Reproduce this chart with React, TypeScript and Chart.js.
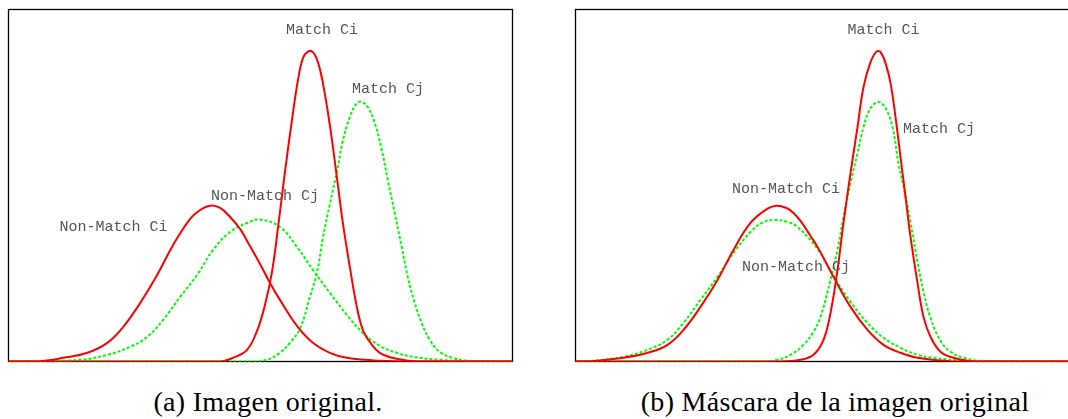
import React, { useEffect, useRef } from 'react';
import { Chart, registerables } from 'chart.js';

Chart.register(...registerables);

// ---------- Panel (a): Imagen original ----------
const aNonMatchCiX = [0, 6.34, 10.89, 15.64, 19.6, 22.77, 26.14, 29.5, 32.67, 36.04, 38.02, 40.0, 41.98, 43.96, 45.94, 47.33, 49.9, 51.88, 53.86, 57.23, 60.4, 63.76, 67.13, 73.66, 81.58, 100];
const aNonMatchCiY = [0, 0.001, 0.0105, 0.0247, 0.053, 0.0985, 0.1666, 0.246, 0.3312, 0.405, 0.4305, 0.4427, 0.4361, 0.4106, 0.3766, 0.3425, 0.2772, 0.2233, 0.1751, 0.1013, 0.0531, 0.0247, 0.0105, 0.002, 0, 0];

const aMatchCiX = [0, 41.98, 44.55, 47.33, 49.31, 50.89, 52.28, 53.47, 54.85, 56.24, 57.43, 58.42, 59.41, 60.4, 61.39, 62.38, 63.76, 65.15, 66.34, 67.72, 69.11, 70.3, 71.68, 73.66, 77.03, 81.58, 100];
const aMatchCiY = [0, 0, 0.0105, 0.0332, 0.0871, 0.1609, 0.2545, 0.3794, 0.5383, 0.6859, 0.7994, 0.8618, 0.8803, 0.8788, 0.8505, 0.7909, 0.6717, 0.5241, 0.3936, 0.2687, 0.1552, 0.09, 0.0559, 0.0247, 0.0077, 0, 0];

const aNonMatchCjX = [0, 4.36, 14.26, 19.6, 24.16, 27.52, 30.69, 34.06, 37.43, 40.59, 43.96, 47.33, 49.9, 53.86, 57.23, 60.4, 63.76, 67.13, 70.3, 73.66, 77.03, 80.2, 85.54, 90.89, 100];
const aNonMatchCjY = [0, 0.0006, 0.0048, 0.019, 0.0417, 0.0701, 0.1183, 0.1836, 0.246, 0.317, 0.368, 0.3936, 0.4035, 0.3822, 0.3255, 0.2602, 0.195, 0.1325, 0.0814, 0.0446, 0.0247, 0.0133, 0.0048, 0.002, 0];

const aMatchCjX = [0, 47.92, 51.29, 53.86, 55.84, 57.82, 59.8, 61.19, 62.38, 63.76, 65.15, 66.34, 67.72, 69.11, 70.1, 71.29, 72.67, 74.06, 75.25, 76.63, 78.02, 79.21, 80.59, 81.98, 83.56, 85.54, 88.12, 90.89, 95.45, 100];
const aMatchCjY = [0, 0, 0.0048, 0.0247, 0.0531, 0.0928, 0.1836, 0.2517, 0.351, 0.4475, 0.5383, 0.6263, 0.6944, 0.7341, 0.737, 0.7228, 0.6774, 0.6008, 0.5157, 0.422, 0.3255, 0.2404, 0.1666, 0.1098, 0.0616, 0.0275, 0.0105, 0.002, 0, 0];

// ---------- Panel (b): Máscara de la imagen original ----------
const bNonMatchCiX = [0, 2.97, 9.5, 14.26, 18.22, 21.39, 24.75, 28.12, 31.29, 34.65, 38.02, 39.8, 41.78, 43.17, 44.55, 46.53, 47.92, 49.11, 51.09, 54.46, 57.82, 60.99, 64.36, 67.72, 74.26, 84.16, 100];
const bNonMatchCiY = [0, 0.0006, 0.0105, 0.0247, 0.0474, 0.0899, 0.1552, 0.2318, 0.317, 0.3936, 0.4341, 0.4427, 0.4361, 0.422, 0.3993, 0.3567, 0.3255, 0.2943, 0.2404, 0.1552, 0.0899, 0.0474, 0.0247, 0.0105, 0.0006, 0, 0];

const bMatchCiX = [0, 40.59, 44.55, 47.13, 49.11, 50.5, 51.88, 53.07, 54.46, 55.84, 57.03, 58.42, 59.6, 60.4, 61.39, 62.38, 63.37, 64.36, 65.35, 66.34, 67.72, 68.91, 70.3, 72.28, 74.85, 78.81, 100];
const bMatchCiY = [0, 0, 0.0048, 0.019, 0.0616, 0.1382, 0.2602, 0.3936, 0.5355, 0.666, 0.7795, 0.8505, 0.8803, 0.8788, 0.8476, 0.7909, 0.6944, 0.5809, 0.4674, 0.3539, 0.2233, 0.1268, 0.0701, 0.0275, 0.0105, 0, 0];

const bNonMatchCjX = [0, 2.97, 9.5, 14.26, 18.22, 21.39, 24.75, 28.12, 31.29, 34.65, 37.23, 39.6, 41.98, 43.96, 47.92, 51.09, 54.46, 57.82, 60.99, 64.36, 67.72, 70.89, 77.62, 84.16, 100];
const bNonMatchCjY = [0, 0.0011, 0.0133, 0.0332, 0.0616, 0.1098, 0.1751, 0.2404, 0.3085, 0.368, 0.3964, 0.4021, 0.3964, 0.3822, 0.3198, 0.2432, 0.1694, 0.1098, 0.0673, 0.0389, 0.019, 0.0105, 0.002, 0, 0];

const bMatchCjX = [0, 36.63, 40.0, 42.57, 45.15, 47.13, 48.51, 50.5, 51.88, 53.07, 54.46, 55.84, 57.03, 58.42, 60.0, 61.39, 62.77, 63.96, 65.35, 66.34, 67.72, 68.91, 70.3, 72.28, 74.26, 76.83, 80.2, 100];
const bMatchCjY = [0, 0, 0.0048, 0.019, 0.0474, 0.0843, 0.1268, 0.2318, 0.317, 0.4106, 0.5071, 0.5922, 0.666, 0.7199, 0.737, 0.7199, 0.666, 0.5639, 0.4702, 0.3964, 0.2829, 0.1978, 0.124, 0.0587, 0.0275, 0.0105, 0.002, 0];

const seriesNames = ['Non-Match Ci', 'Match Ci', 'Non-Match Cj', 'Match Cj'];
const captions = ['(a) Imagen original.', '(b) Máscara de la imagen original'];

const RED = '#ff0000';
const GREEN = '#00ff00';

type Series = { name: string; x: number[]; y: number[]; color: string; dash: number[] };

const panelA: Series[] = [
  { name: seriesNames[0], x: aNonMatchCiX, y: aNonMatchCiY, color: RED, dash: [] },
  { name: seriesNames[1], x: aMatchCiX, y: aMatchCiY, color: RED, dash: [] },
  { name: seriesNames[2], x: aNonMatchCjX, y: aNonMatchCjY, color: GREEN, dash: [3, 2] },
  { name: seriesNames[3], x: aMatchCjX, y: aMatchCjY, color: GREEN, dash: [3, 2] },
];
const panelB: Series[] = [
  { name: seriesNames[0], x: bNonMatchCiX, y: bNonMatchCiY, color: RED, dash: [] },
  { name: seriesNames[1], x: bMatchCiX, y: bMatchCiY, color: RED, dash: [] },
  { name: seriesNames[2], x: bNonMatchCjX, y: bNonMatchCjY, color: GREEN, dash: [3, 2] },
  { name: seriesNames[3], x: bMatchCjX, y: bMatchCjY, color: GREEN, dash: [3, 2] },
];

const framePlugin = {
  id: 'frame',
  beforeDatasetsDraw(chart: any) {
    const { ctx, chartArea } = chart;
    const { left, right, top, bottom } = chartArea;
    ctx.save();
    ctx.strokeStyle = '#000';
    ctx.lineWidth = 1.3;
    ctx.strokeRect(left, top, right - left, bottom - top);
    ctx.restore();
  },
};

function Panel(props: { left: number; width: number; height: number; padding: any; series: Series[] }) {
  const ref = useRef<HTMLCanvasElement | null>(null);
  useEffect(() => {
    if (!ref.current) return;
    const chart = new Chart(ref.current, {
      type: 'line',
      data: {
        datasets: props.series.map((s) => ({
          label: s.name,
          data: s.x.map((x, i) => ({ x, y: s.y[i] })),
          borderColor: s.color,
          borderWidth: 2,
          borderDash: s.dash,
          pointRadius: 0,
          tension: 0.4,
          fill: false,
        })),
      },
      options: {
        responsive: false,
        animation: false,
        devicePixelRatio: 1,
        events: [],
        layout: { padding: props.padding },
        plugins: { legend: { display: false }, tooltip: { enabled: false } },
        scales: {
          x: { type: 'linear', min: 0, max: 100, display: false },
          y: { type: 'linear', min: 0, max: 1, display: false },
        },
      },
      plugins: [framePlugin],
    } as any);
    return () => chart.destroy();
  }, []);
  return (
    <canvas
      ref={ref}
      width={props.width}
      height={props.height}
      style={{ position: 'absolute', left: props.left, top: 0, width: props.width, height: props.height }}
    />
  );
}

const labelStyle: React.CSSProperties = {
  position: 'absolute',
  fontFamily: '"Liberation Mono", "Courier New", monospace',
  fontSize: 15,
  lineHeight: '15px',
  color: '#555',
  whiteSpace: 'nowrap',
  transform: 'translate(-50%, -50%)',
};

const captionStyle: React.CSSProperties = {
  position: 'absolute',
  fontFamily: '"Liberation Serif", "Times New Roman", "DejaVu Serif", serif',
  fontSize: 28,
  lineHeight: '28px',
  letterSpacing: '0.3px',
  color: '#000',
  whiteSpace: 'nowrap',
  transform: 'translateX(-50%)',
};

export default function App() {
  return (
    <div style={{ position: 'fixed', left: 0, top: 0, width: 1068, height: 419, overflow: 'hidden', background: '#fff' }}>
      <Panel left={0} width={534} height={370} padding={{ left: 8.5, right: 21.5, top: 9.5, bottom: 8.5 }} series={panelA} />
      <Panel left={534} width={560} height={370} padding={{ left: 41.5, right: 13.5, top: 9.5, bottom: 8.5 }} series={panelB} />

      <div style={{ ...labelStyle, left: 322, top: 30 }}>{seriesNames[1]}</div>
      <div style={{ ...labelStyle, left: 388, top: 89 }}>{seriesNames[3]}</div>
      <div style={{ ...labelStyle, left: 265, top: 196 }}>{seriesNames[2]}</div>
      <div style={{ ...labelStyle, left: 113.5, top: 227 }}>{seriesNames[0]}</div>

      <div style={{ ...labelStyle, left: 883.5, top: 30 }}>{seriesNames[1]}</div>
      <div style={{ ...labelStyle, left: 939, top: 129 }}>{seriesNames[3]}</div>
      <div style={{ ...labelStyle, left: 786, top: 189 }}>{seriesNames[0]}</div>
      <div style={{ ...labelStyle, left: 796, top: 267 }}>{seriesNames[2]}</div>

      <div style={{ ...captionStyle, left: 268, top: 388 }}>{captions[0]}</div>
      <div style={{ ...captionStyle, left: 835, top: 388 }}>{captions[1]}</div>
    </div>
  );
}
